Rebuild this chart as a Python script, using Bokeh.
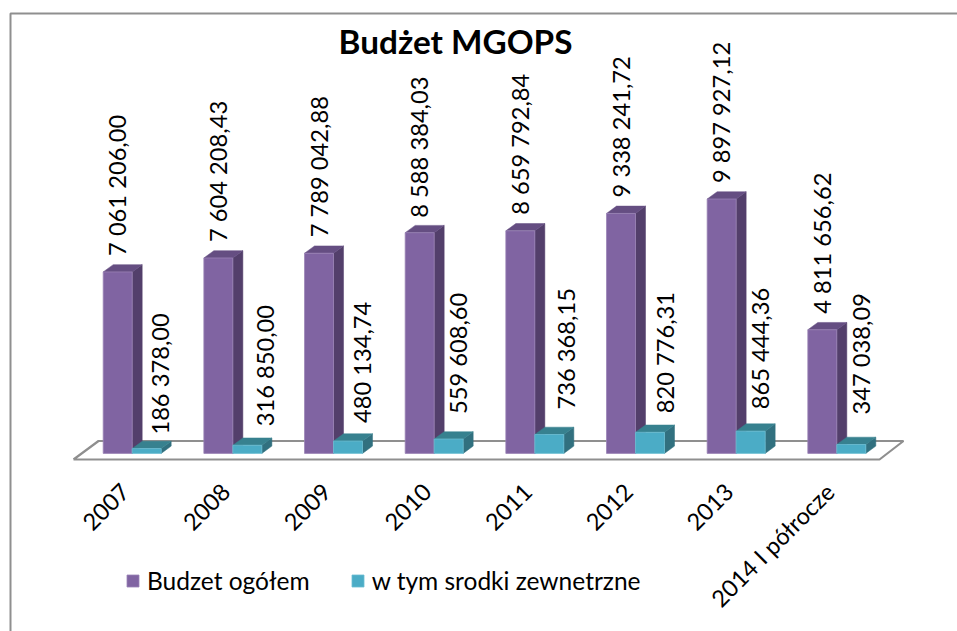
from bokeh.plotting import figure
from bokeh.embed import file_html
from bokeh.resources import INLINE
from bokeh.core.properties import value
from bokeh.models import Range1d, Legend, LegendItem
import math

categories = ["2007", "2008", "2009", "2010", "2011", "2012", "2013", "2014 I półrocze"]
budzet_ogolem = [7061206.00, 7604208.43, 7789042.88, 8588384.03, 8659792.84, 9338241.72, 9897927.12, 4811656.62]
srodki_zewnetrzne = [186378.00, 316850.00, 480134.74, 559608.60, 736368.15, 820776.31, 865444.36, 347038.09]
series_names = ["Budzet ogółem", "w tym srodki zewnetrzne"]
title_text = "Budżet MGOPS"

W, H = 957, 631
OX, OY = 0, 0
PX_PER_CAT = 100.66
PX_PER_UNIT = 25.7 / 1e6
X0_PAGE = 131.7
BASE_PAGE = 452.9

x_start = -(X0_PAGE - OX) / PX_PER_CAT
x_end = x_start + W / PX_PER_CAT
y_start = -(OY + H - BASE_PAGE) / PX_PER_UNIT
y_end = y_start + H / PX_PER_UNIT

def xd(px):
    return x_start + (px - OX) / PX_PER_CAT

def yd(py):
    return (BASE_PAGE - py) / PX_PER_UNIT

p = figure(width=W, height=H, output_backend="svg", toolbar_location=None,
           x_range=Range1d(x_start, x_end), y_range=Range1d(y_start, y_end),
           x_axis_type="linear", min_border=0, outline_line_color=None)
p.xaxis.visible = False
p.yaxis.visible = False
p.grid.visible = False
p.background_fill_color = "white"
p.border_fill_color = "white"

GRAY = "#8f8f8f"
# outer frame of the chart
p.line([xd(10), xd(10), xd(960)], [yd(640), yd(13), yd(13)], line_color=GRAY, line_width=2)
# floor
p.line([xd(73), xd(98), xd(903), xd(879), xd(73)],
       [yd(459), yd(440.5), yd(440.5), yd(459), yd(459)], line_color=GRAY, line_width=2.2)

BW = 29 / PX_PER_CAT
DX = 10 / PX_PER_CAT
DY = 7.3 / PX_PER_UNIT
xs = list(range(len(categories)))

def draw(vals, lefts, front, side, top, edge):
    side_x = [[l + BW, l + BW + DX, l + BW + DX, l + BW] for l in lefts]
    side_y = [[0, DY, v + DY, v] for v in vals]
    top_x = [[l, l + DX, l + BW + DX, l + BW] for l in lefts]
    top_y = [[v, v + DY, v + DY, v] for v in vals]
    p.patches(side_x, side_y, fill_color=side, line_color=side, line_width=0.5)
    p.patches(top_x, top_y, fill_color=top, line_color=top, line_width=0.5)
    return p.vbar(x=[l + BW / 2 for l in lefts], top=vals, bottom=0, width=BW,
                  fill_color=front, line_color=edge, line_width=0.8)

r1 = draw(budzet_ogolem, [x - BW for x in xs], "#8064a2", "#533f6b", "#654e82", "#9a84b6")
r2 = draw(srodki_zewnetrzne, xs, "#4bacc6", "#31707f", "#37818f", "#6bbcd2")

def fmt(v):
    s = f"{v:,.2f}"
    return s.replace(",", " ").replace(".", ",")

FONT = value("Lato")
LABEL_SIZE = "23.7px"
# label nudges, pixels
off1_x = [-0.5] * 8
off1_y = [-16, -16, -16, -15, -16, -16, -16, -16]
off2_x = [13, 18, 14, 9, 17, 15, 9, 10]
off2_y = [-14, -19, -18, -25, -25, -19, -22, -30]
p.text([x - BW / 2 for x in xs], budzet_ogolem, text=[fmt(v) for v in budzet_ogolem],
       x_offset=off1_x, y_offset=off1_y, angle=math.pi / 2, text_font=FONT, text_font_size=LABEL_SIZE,
       text_align="left", text_baseline="middle", text_color="black")
p.text([x + BW / 2 for x in xs], srodki_zewnetrzne, text=[fmt(v) for v in srodki_zewnetrzne],
       x_offset=off2_x, y_offset=off2_y, angle=math.pi / 2, text_font=FONT, text_font_size=LABEL_SIZE,
       text_align="left", text_baseline="middle", text_color="black")

# category labels
p.text(xs, [yd(487)] * len(xs), text=categories, x_offset=-7, angle=math.pi / 4,
       text_font=FONT, text_font_size="23.5px", text_align="right", text_baseline="middle",
       text_color="black")

# title
p.text([xd(455)], [yd(40)], text=[title_text], text_font=FONT, text_font_size="33.3px",
       text_font_style="bold", text_align="center", text_baseline="middle", text_color="black")

legend = Legend(items=[LegendItem(label=series_names[0], renderers=[r1]),
                       LegendItem(label=series_names[1], renderers=[r2])],
                orientation="horizontal", location=(125, 36), background_fill_alpha=0,
                border_line_color=None, glyph_width=15, glyph_height=15, padding=0, margin=0,
                spacing=40, label_standoff=7, label_text_font="Lato", label_text_font_size="24.5px",
                label_text_color="black", label_height=15)
p.add_layout(legend, "center")

open("out.html", "w").write(file_html(p, INLINE))
